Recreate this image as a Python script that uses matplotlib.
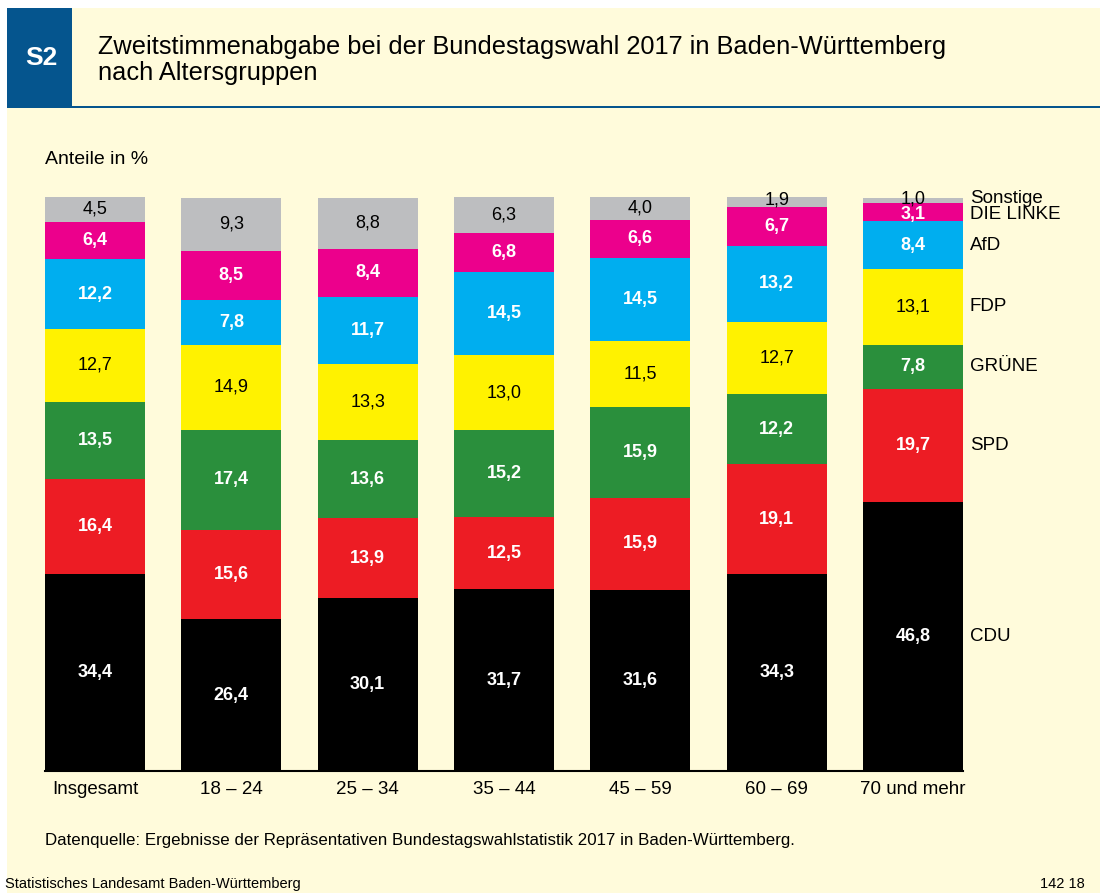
import matplotlib
matplotlib.use("Agg")
import matplotlib.pyplot as plt
from matplotlib.patches import Rectangle
import numpy as np

# data (shares in %), stacked from bottom to top
groups = ["Insgesamt", "18 – 24", "25 – 34", "35 – 44", "45 – 59", "60 – 69", "70 und mehr"]
parties = ["CDU", "SPD", "GRÜNE", "FDP", "AfD", "DIE LINKE", "Sonstige"]
cdu = [34.4, 26.4, 30.1, 31.7, 31.6, 34.3, 46.8]
spd = [16.4, 15.6, 13.9, 12.5, 15.9, 19.1, 19.7]
gruene = [13.5, 17.4, 13.6, 15.2, 15.9, 12.2, 7.8]
fdp = [12.7, 14.9, 13.3, 13.0, 11.5, 12.7, 13.1]
afd = [12.2, 7.8, 11.7, 14.5, 14.5, 13.2, 8.4]
linke = [6.4, 8.5, 8.4, 6.8, 6.6, 6.7, 3.1]
sonstige = [4.5, 9.3, 8.8, 6.3, 4.0, 1.9, 1.0]
series = [cdu, spd, gruene, fdp, afd, linke, sonstige]

colors = ["#000000", "#ED1C24", "#2A8F3C", "#FFF200", "#00AEEF", "#EC008C", "#BDBEC0"]
label_colors = ["white", "white", "white", "black", "white", "white", "black"]
label_weights = ["bold", "bold", "bold", "normal", "bold", "bold", "normal"]

bg = "#FFFBDB"
blue = "#05558E"
plt.rcParams["font.family"] = ["Liberation Sans", "DejaVu Sans"]

W, H = 1100, 893
fig = plt.figure(figsize=(W / 100, H / 100), dpi=100)
fig.patch.set_facecolor("white")

def px(x, y):
    return x / W, 1 - y / H

# background panels
fig.patches.append(Rectangle(px(7, H), (W - 7) / W, (H - 8) / H, transform=fig.transFigure,
                             facecolor=bg, edgecolor="none", zorder=-2))
fig.patches.append(Rectangle(px(7, 106), 65 / W, 98 / H, transform=fig.transFigure,
                             facecolor=blue, edgecolor="none", zorder=-1))
fig.patches.append(Rectangle(px(7, 108), (W - 7) / W, 2 / H, transform=fig.transFigure,
                             facecolor=blue, edgecolor="none", zorder=-1))

fig.text(*px(41, 58), "S2", color="white", fontsize=19, fontweight="bold", ha="center", va="center")
fig.text(*px(98, 47), "Zweitstimmenabgabe bei der Bundestagswahl 2017 in Baden-Württemberg",
         fontsize=18.3, ha="left", va="center")
fig.text(*px(98, 73), "nach Altersgruppen", fontsize=18.3, ha="left", va="center")
fig.text(*px(45, 160), "Anteile in %", fontsize=14, ha="left", va="center")

# axes: baseline at y=771, 100 % at y=197, bars from x=45 to 963
bw = 0.733
ax = fig.add_axes([45 / W, (H - 771) / H, (963 - 45) / W, 574 / H])
ax.set_zorder(2)
ax.set_xlim(-bw / 2, len(groups) - 1 + bw / 2)
ax.set_ylim(0, 100)
ax.axis("off")

x = np.arange(len(groups))
bottom = np.zeros(len(groups))
for vals, c, lc, lw in zip(series, colors, label_colors, label_weights):
    vals = np.array(vals)
    ax.bar(x, vals, bw, bottom=bottom, color=c, edgecolor="none", zorder=2)
    for xi, b, v in zip(x, bottom, vals):
        # very thin top segments: push the two labels slightly apart
        dy = 0
        if v < 2:
            dy = 1
        elif v < 3.5 and b > 90:
            dy = -1.5
        ax.annotate(f"{v:.1f}".replace(".", ","), (xi, b + v / 2), xytext=(0, dy), textcoords="offset points",
                    ha="center", va="center", color=lc, fontsize=13, fontweight=lw, zorder=3)
    bottom = bottom + vals
ax.axhline(0, color="black", lw=1.5, zorder=4, clip_on=False)

# category labels
for xi, g in zip(x, groups):
    ax.text(xi, -3.2, g, ha="center", va="center", fontsize=13.5)

# party labels right of the last bar
last = np.array([s[-1] for s in series])
mids = np.cumsum(last) - last / 2
nudges = [0, 0, 0, 0, 0, -2, 1.5]
for p, m, n in zip(parties, mids, nudges):
    ax.annotate(p, (len(groups) - 1 + bw / 2, m), xytext=(5, n), textcoords="offset points",
                ha="left", va="center", fontsize=13.5, annotation_clip=False)

fig.text(*px(45, 840), "Datenquelle: Ergebnisse der Repräsentativen Bundestagswahlstatistik 2017 in Baden-Württemberg.",
         fontsize=12.2, ha="left", va="center")
fig.text(*px(5, 884), "Statistisches Landesamt Baden-Württemberg", fontsize=10.5, ha="left", va="center")
fig.text(*px(1085, 884), "142 18", fontsize=10.5, ha="right", va="center")

fig.savefig("out.png", dpi=100, facecolor=fig.get_facecolor())
